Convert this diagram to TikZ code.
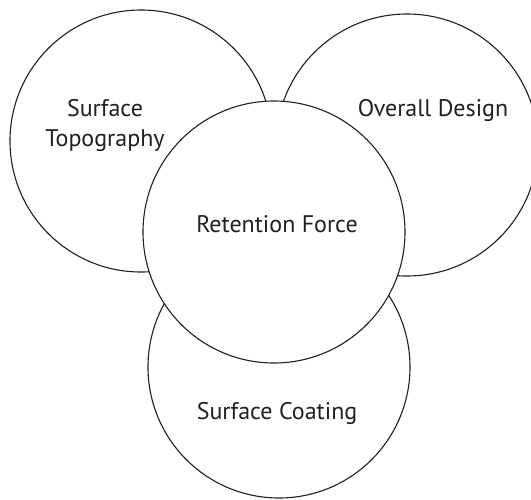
\documentclass[tikz,border=0pt]{standalone}
\usepackage{fontspec}
\setmainfont{PT Sans}
\definecolor{inkgray}{HTML}{231F20}
\tikzset{
  ring/.style={circle,draw=inkgray,line width=1.1pt,fill=white,inner sep=0pt,minimum size=262pt},
  caption/.style={text=inkgray,font=\fontsize{24}{28}\selectfont,anchor=base,inner sep=0pt}
}
\begin{document}
\begin{tikzpicture}[x=1pt,y=-1pt]
\useasboundingbox (0,0) rectangle (531,499);
%\draw[step=50,very thin,color=gray] (0,0) grid (531,499);
\node[ring] (coating) at (279,367) {};
\node[ring] (topo) at (141,141) {};
\node[ring] (design) at (407,145) {};
\node[ring] (force) at (274,232) {};
\node[caption] (topolabel) at (105,116) {Surface};
\node[caption] (topolabel2) at (105,146) {Topography};
\node[caption] (designlabel) at (433,116) {Overall Design};
\node[caption] (forcelabel) at (277,232) {Retention Force};
\node[caption] (coatinglabel) at (277,419) {Surface Coating};
\end{tikzpicture}
\end{document}
